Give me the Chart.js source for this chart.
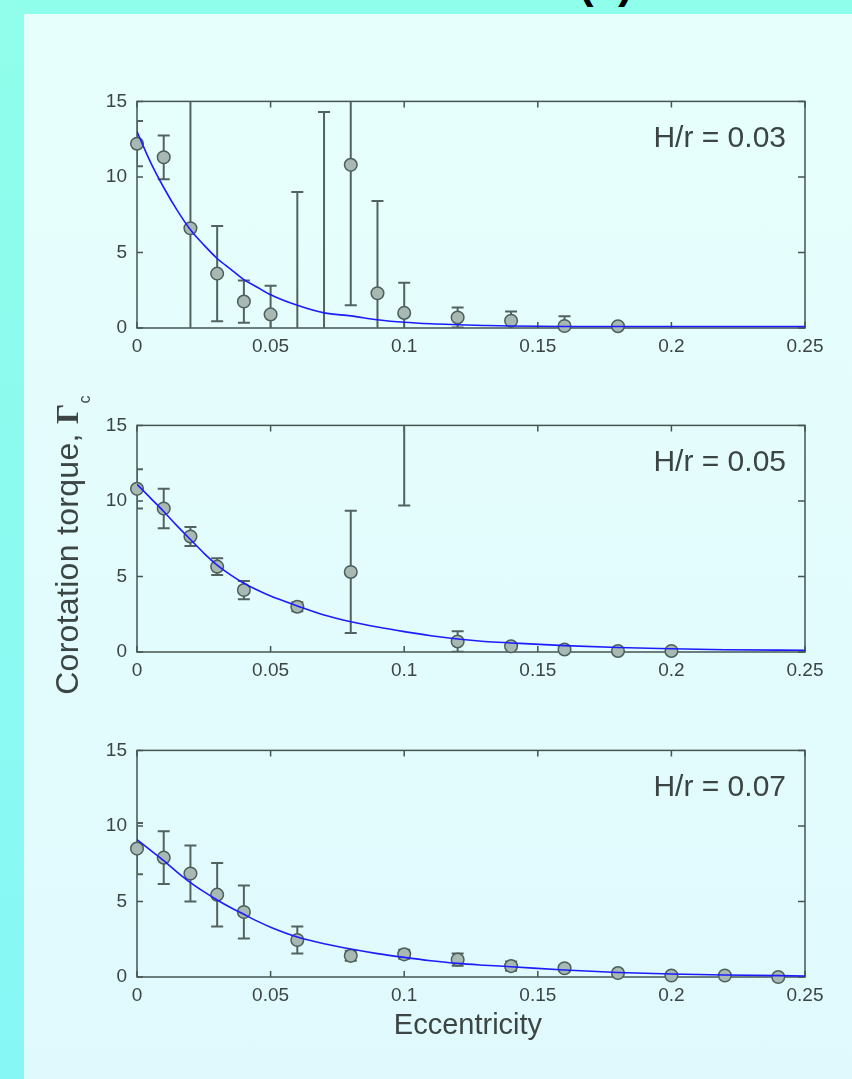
<!DOCTYPE html>
<html>
<head>
<meta charset="utf-8">
<script src="https://cdn.jsdelivr.net/npm/chart.js@4.4.0/dist/chart.umd.min.js"></script>
<style>
  html, body { margin: 0; padding: 0; }
  body {
    width: 852px; height: 1079px; position: relative; overflow: hidden;
    background: #8ffeea;
    font-family: "Liberation Sans", Arial, sans-serif;
    color: #3b4644;
  }
  #panel { position: absolute; left: 24px; top: 14px; right: 0; bottom: 0;
    background: linear-gradient(#e7fffc, #e0f9fd); }
  #strip { position: absolute; left: 0; top: 0; width: 24px; height: 1079px;
    background: linear-gradient(#90feea, #87f7f6); }
  canvas { position: absolute; left: 24px; }
  #tag { position: absolute; left: 579px; top: -39px; font-size: 44px; line-height: 44px;
    font-weight: bold; color: #000; }
  #ylab { position: absolute; left: -133px; top: 529px; width: 400px; height: 32px;
    line-height: 32px; font-size: 32px; letter-spacing: 0.3px; text-align: center;
    white-space: nowrap; transform: rotate(-90deg); }
  #ylab .gam { font-family: "Liberation Serif", serif; font-weight: bold; }
  #ylab sub { font-size: 16px; vertical-align: -12px; line-height: 0; }
  #xlab { position: absolute; left: 368px; top: 1010px; width: 200px; font-size: 29px;
    line-height: 29px; text-align: center; }
</style>
</head>
<body>
<div id="panel"></div>
<div id="strip"></div>
<div id="tag">(c)</div>
<canvas id="chart1" width="828" height="290" style="top:80px"></canvas>
<canvas id="chart2" width="828" height="290" style="top:404px"></canvas>
<canvas id="chart3" width="828" height="290" style="top:729px"></canvas>
<div id="ylab">Corotation torque, <span class="gam">Γ</span><sub>c</sub></div>
<div id="xlab">Eccentricity</div>
<script>
var xTicks = [0, 0.05, 0.1, 0.15, 0.2, 0.25];
var xTickLabels = ["0", "0.05", "0.1", "0.15", "0.2", "0.25"];
var yTicks = [0, 5, 10, 15];
var yTickLabels = ["0", "5", "10", "15"];
var panelLabels = ["H/r = 0.03", "H/r = 0.05", "H/r = 0.07"];

// H/r = 0.03
var ecc1 = [0, 0.01, 0.02, 0.03, 0.04, 0.05, 0.06, 0.07, 0.08, 0.09, 0.1, 0.12, 0.14, 0.16, 0.18];
var torque1 = [12.2, 11.3, 6.6, 3.6, 1.75, 0.9, -1.5, -2.0, 10.8, 2.3, 1.0, 0.7, 0.48, 0.13, 0.12];
var err1 = [1.5, 1.45, 10.0, 3.15, 1.4, 1.9, 10.5, 16.3, 9.3, 6.1, 2.0, 0.66, 0.62, 0.65, 0];

// H/r = 0.05
var ecc2 = [0, 0.01, 0.02, 0.03, 0.04, 0.06, 0.08, 0.1, 0.12, 0.14, 0.16, 0.18, 0.2];
var torque2 = [10.8, 9.5, 7.65, 5.65, 4.1, 3.0, 5.3, 20.0, 0.7, 0.38, 0.17, 0.07, 0.07];
var err2 = [1.3, 1.3, 0.63, 0.55, 0.6, 0.3, 4.05, 10.3, 0.68, 0.15, 0.15, 0.08, 0.08];

// H/r = 0.07
var ecc3 = [0, 0.01, 0.02, 0.03, 0.04, 0.06, 0.08, 0.1, 0.12, 0.14, 0.16, 0.18, 0.2, 0.22, 0.24];
var torque3 = [8.5, 7.9, 6.85, 5.45, 4.3, 2.45, 1.4, 1.5, 1.15, 0.72, 0.58, 0.26, 0.1, 0.1, 0.0];
var err3 = [1.7, 1.75, 1.85, 2.1, 1.75, 0.9, 0.33, 0.3, 0.4, 0.3, 0.2, 0.1, 0.1, 0.1, 0.05];

// fitted curves
var fitEcc = [0, 0.005, 0.01, 0.015, 0.02, 0.025, 0.03, 0.035, 0.04, 0.045, 0.05, 0.06, 0.07,
  0.08, 0.09, 0.1, 0.11, 0.12, 0.13, 0.14, 0.16, 0.18, 0.2, 0.22, 0.25];
var fit1 = [13.0, 11.0, 9.3, 7.8, 6.5, 5.5, 4.6, 3.9, 3.2, 2.7, 2.2, 1.5, 1.0,
  0.8, 0.55, 0.38, 0.28, 0.22, 0.17, 0.13, 0.1, 0.1, 0.1, 0.1, 0.1];
var fit2 = [11.1, 10.2, 9.3, 8.35, 7.45, 6.55, 5.75, 5.1, 4.55, 4.1, 3.7, 3.05, 2.45,
  2.0, 1.65, 1.35, 1.08, 0.86, 0.7, 0.6, 0.42, 0.3, 0.22, 0.15, 0.12];
var fit3 = [9.1, 8.4, 7.7, 6.95, 6.25, 5.65, 5.1, 4.6, 4.15, 3.7, 3.3, 2.65, 2.2,
  1.85, 1.55, 1.3, 1.08, 0.9, 0.78, 0.68, 0.46, 0.3, 0.2, 0.13, 0.07];

var textColor = "#3b4644";
var frameColor = "#455552";
var barColor = "#52635f";

// frame, inward ticks on all four sides, error bars and the H/r label
var panelPlugin = {
  id: "panel",
  beforeDatasetsDraw: function (chart) {
    var ctx = chart.ctx, a = chart.chartArea;
    var x = chart.scales.x, y = chart.scales.y;
    ctx.save();
    ctx.strokeStyle = frameColor;
    ctx.lineWidth = 1.5;
    ctx.strokeRect(a.left, a.top, a.right - a.left, a.bottom - a.top);
    ctx.beginPath();
    xTicks.forEach(function (v) {
      var px = x.getPixelForValue(v);
      ctx.moveTo(px, a.bottom); ctx.lineTo(px, a.bottom - 6);
      ctx.moveTo(px, a.top); ctx.lineTo(px, a.top + 6);
    });
    yTicks.forEach(function (v) {
      var py = y.getPixelForValue(v);
      ctx.moveTo(a.left, py); ctx.lineTo(a.left + 6, py);
      ctx.moveTo(a.right, py); ctx.lineTo(a.right - 7, py);
    });
    ctx.stroke();

    var pts = chart.config.data.datasets[1];
    ctx.beginPath();
    ctx.rect(a.left, a.top, a.right - a.left, a.bottom - a.top);
    ctx.clip();
    ctx.strokeStyle = barColor;
    ctx.lineWidth = 2;
    ctx.beginPath();
    pts.data.forEach(function (p, i) {
      var e = pts.errors[i];
      if (!e) return;
      var px = x.getPixelForValue(p.x);
      var top = y.getPixelForValue(p.y + e);
      var bot = y.getPixelForValue(p.y - e);
      ctx.moveTo(px, top); ctx.lineTo(px, bot);
      ctx.moveTo(px - 6, top); ctx.lineTo(px + 6, top);
      ctx.moveTo(px - 6, bot); ctx.lineTo(px + 6, bot);
    });
    ctx.stroke();
    ctx.restore();
  },
  afterDraw: function (chart) {
    var ctx = chart.ctx, a = chart.chartArea;
    ctx.save();
    ctx.font = "30px 'Liberation Sans', Arial, sans-serif";
    ctx.fillStyle = textColor;
    ctx.textAlign = "right";
    ctx.textBaseline = "alphabetic";
    ctx.fillText(chart.options.plugins.panel.label, a.right - 19, a.top + 46);
    ctx.restore();
  }
};

function makeChart(id, ecc, torque, err, fit, label) {
  var points = ecc.map(function (e, i) { return { x: e, y: torque[i] }; });
  var curve = fitEcc.map(function (e, i) { return { x: e, y: fit[i] }; });
  return new Chart(document.getElementById(id), {
    type: "scatter",
    data: {
      datasets: [
        {
          data: curve,
          showLine: true,
          borderColor: "#1c1cff",
          borderWidth: 1.6,
          pointRadius: 0,
          cubicInterpolationMode: "monotone",
        },
        {
          data: points,
          errors: err,
          clip: { left: 9, right: 9, top: 0, bottom: 8 },
          pointRadius: 6.3,
          pointBackgroundColor: "#a8b9b4",
          pointBorderColor: "#4c5f5b",
          pointBorderWidth: 1.5,
        },
      ],
    },
    options: {
      responsive: false,
      animation: false,
      events: [],
      layout: { padding: { left: 0, right: 47, top: 16, bottom: 0 } },
      plugins: { legend: { display: false }, tooltip: { enabled: false }, panel: { label: label } },
      scales: {
        x: {
          type: "linear",
          min: 0,
          max: 0.25,
          afterBuildTicks: function (s) { s.ticks = xTicks.map(function (v) { return { value: v }; }); },
          afterFit: function (s) { s.height = 42; },
          grid: { display: false, drawTicks: false },
          border: { display: false },
          ticks: {
            autoSkip: false,
            maxRotation: 0,
            padding: 7,
            color: textColor,
            font: { family: "'Liberation Sans', Arial, sans-serif", size: 19 },
            callback: function (v, i) { return xTickLabels[i]; },
          },
        },
        y: {
          type: "linear",
          min: 0,
          max: 15,
          afterBuildTicks: function (s) { s.ticks = yTicks.map(function (v) { return { value: v }; }); },
          afterFit: function (s) { s.width = 113; },
          grid: { display: false, drawTicks: false },
          border: { display: false },
          ticks: {
            padding: 10,
            color: textColor,
            font: { family: "'Liberation Sans', Arial, sans-serif", size: 19 },
            callback: function (v, i) { return yTickLabels[i]; },
          },
        },
      },
    },
    plugins: [panelPlugin],
  });
}

makeChart("chart1", ecc1, torque1, err1, fit1, panelLabels[0]);
makeChart("chart2", ecc2, torque2, err2, fit2, panelLabels[1]);
makeChart("chart3", ecc3, torque3, err3, fit3, panelLabels[2]);
</script>
</body>
</html>
